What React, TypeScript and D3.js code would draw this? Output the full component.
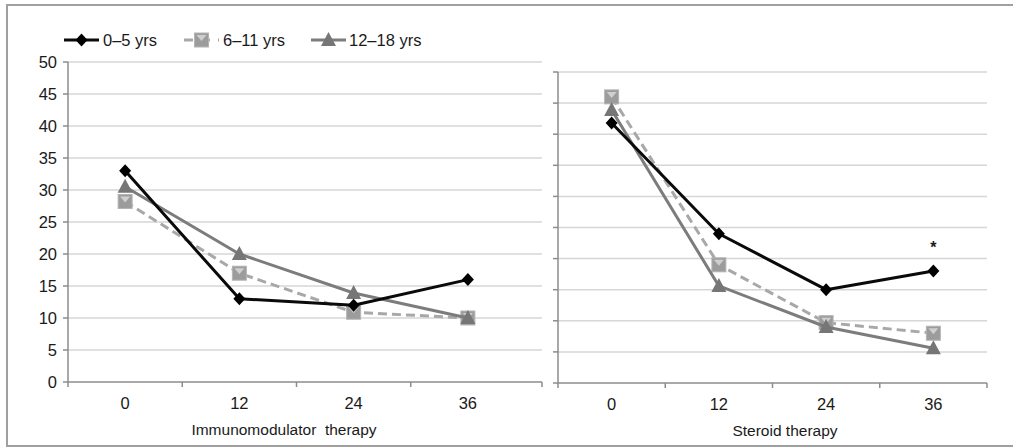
import React from "react";
import * as d3 from "d3";

const months = ["0", "12", "24", "36"];
const seriesNames = ["0–5 yrs", "6–11 yrs", "12–18 yrs"];
const yTicks = [0, 5, 10, 15, 20, 25, 30, 35, 40, 45, 50];

// immunomodulator therapy panel
const immuno05 = [33, 13, 12, 16];
const immuno611 = [28.2, 17, 10.9, 10];
const immuno1218 = [30.5, 20, 13.9, 10];

// steroid therapy panel
const steroid05 = [41.8, 24, 15, 18];
const steroid611 = [46, 19, 9.7, 8];
const steroid1218 = [43.9, 15.6, 9, 5.6];

const FONT = "'Liberation Sans', Arial, sans-serif";

type Style = { stroke: string; dash?: string; marker: "diamond" | "square" | "triangle"; fill: string };
const styles: Style[] = [
  { stroke: "#0a0a0a", marker: "diamond", fill: "#000" },
  { stroke: "#a8a8a8", dash: "9,5", marker: "square", fill: "#9c9c9c" },
  { stroke: "#7c7c7c", marker: "triangle", fill: "#767676" },
];

const Marker: React.FC<{ x: number; y: number; s: Style }> = ({ x, y, s }) => {
  if (s.marker === "diamond") {
    return <path d={`M${x},${y - 6.5}L${x + 6},${y}L${x},${y + 6.5}L${x - 6},${y}Z`} fill={s.fill} />;
  }
  if (s.marker === "square") {
    return (
      <g>
        <rect x={x - 7} y={y - 7} width={14} height={14} fill={s.fill} stroke="#b4b4b4" strokeWidth={1} />
        <path d={`M${x - 5},${y - 5}L${x},${y + 1}L${x + 5},${y - 5}`} fill="#cfcfcf" />
      </g>
    );
  }
  return <path d={`M${x},${y - 8}L${x + 7.5},${y + 6}L${x - 7.5},${y + 6}Z`} fill={s.fill} />;
};

type PanelProps = {
  data: number[][];
  xRange: [number, number];
  axisEnd: number;
  yRange: [number, number];
  title: string;
  titleX: number;
  showLabels: boolean;
  star?: boolean;
};

const Panel: React.FC<PanelProps> = ({ data, xRange, axisEnd, yRange, title, titleX, showLabels, star }) => {
  const x = d3.scaleBand<string>().domain(months).range(xRange);
  const y = d3.scaleLinear().domain([0, 50]).range(yRange);
  const cx = (m: string) => (x(m) ?? 0) + x.bandwidth() / 2;
  const line = d3
    .line<number>()
    .x((_, i) => cx(months[i]))
    .y((d) => y(d));
  const order = [1, 2, 0];
  const left = xRange[0];
  return (
    <g>
      {yTicks.map((t) => (
        <g key={t}>
          {t > 0 && <line x1={left} x2={axisEnd} y1={y(t)} y2={y(t)} stroke="#d6d6d6" strokeWidth={1.5} />}
          <line x1={left - 5} x2={left} y1={y(t)} y2={y(t)} stroke="#8c8c8c" strokeWidth={1.5} />
          {showLabels && (
            <text x={left - 11} y={y(t)} dy="0.35em" textAnchor="end" fontSize={16.5} fill="#1a1a1a">
              {t}
            </text>
          )}
        </g>
      ))}
      <line x1={left} x2={left} y1={y(50)} y2={y(0)} stroke="#8c8c8c" strokeWidth={1.5} />
      <line x1={left} x2={axisEnd} y1={y(0)} y2={y(0)} stroke="#8c8c8c" strokeWidth={1.5} />
      {[...months.map((m) => x(m) ?? 0), axisEnd].map((tx, i) => (
        <line key={i} x1={tx} x2={tx} y1={y(0)} y2={y(0) + 5} stroke="#8c8c8c" strokeWidth={1.5} />
      ))}
      {months.map((m) => (
        <text key={m} x={cx(m)} y={y(0) + 21} dy="0.35em" textAnchor="middle" fontSize={16.5} fill="#1a1a1a">
          {m}
        </text>
      ))}
      <text x={titleX} y={y(0) + 48} dy="0.35em" textAnchor="middle" fontSize={15.5} fill="#1a1a1a" style={{ whiteSpace: "pre" }}>
        {title}
      </text>
      {order.map((si) => (
        <g key={si}>
          <path
            d={line(data[si]) ?? ""}
            fill="none"
            stroke={styles[si].stroke}
            strokeWidth={3}
            strokeDasharray={styles[si].dash}
            strokeLinejoin="round"
          />
          {data[si].map((v, i) => (
            <Marker key={i} x={cx(months[i])} y={y(v)} s={styles[si]} />
          ))}
        </g>
      ))}
      {star && (
        <text x={cx("36")} y={y(data[0][3]) - 18} textAnchor="middle" fontSize={16} fontWeight="bold" fill="#1a1a1a">
          *
        </text>
      )}
    </g>
  );
};

const Legend: React.FC = () => {
  const items = [
    { x0: 64, x1: 99, tx: 103 },
    { x0: 184, x1: 219, tx: 223 },
    { x0: 311, x1: 346, tx: 349 },
  ];
  const ly = 40;
  return (
    <g>
      {items.map((it, i) => {
        const s = styles[i];
        const mid = (it.x0 + it.x1) / 2;
        return (
          <g key={i}>
            <line x1={it.x0} x2={it.x1} y1={ly} y2={ly} stroke={s.stroke} strokeWidth={3} strokeDasharray={s.dash ? "9,8" : undefined} />
            <Marker x={mid} y={ly} s={s} />
            <text x={it.tx} y={ly} dy="0.35em" fontSize={16.5} fill="#1a1a1a">
              {seriesNames[i]}
            </text>
          </g>
        );
      })}
    </g>
  );
};

const App: React.FC = () => {
  return (
    <svg
      width={1013}
      height={448}
      style={{ position: "absolute", left: 0, top: 0, background: "#fff" }}
      fontFamily={FONT}
    >
      <rect x={7} y={5} width={1015} height={441} fill="#fff" stroke="#a0a0a0" strokeWidth={2} />
      <Panel
        data={[immuno05, immuno611, immuno1218]}
        xRange={[68, 525]}
        axisEnd={542}
        yRange={[382, 62]}
        title={"Immunomodulator  therapy"}
        titleX={284}
        showLabels
      />
      <Panel
        data={[steroid05, steroid611, steroid1218]}
        xRange={[558, 987]}
        axisEnd={987}
        yRange={[383, 72]}
        title="Steroid therapy"
        titleX={785}
        showLabels={false}
        star
      />
      <Legend />
    </svg>
  );
};

export default App;
